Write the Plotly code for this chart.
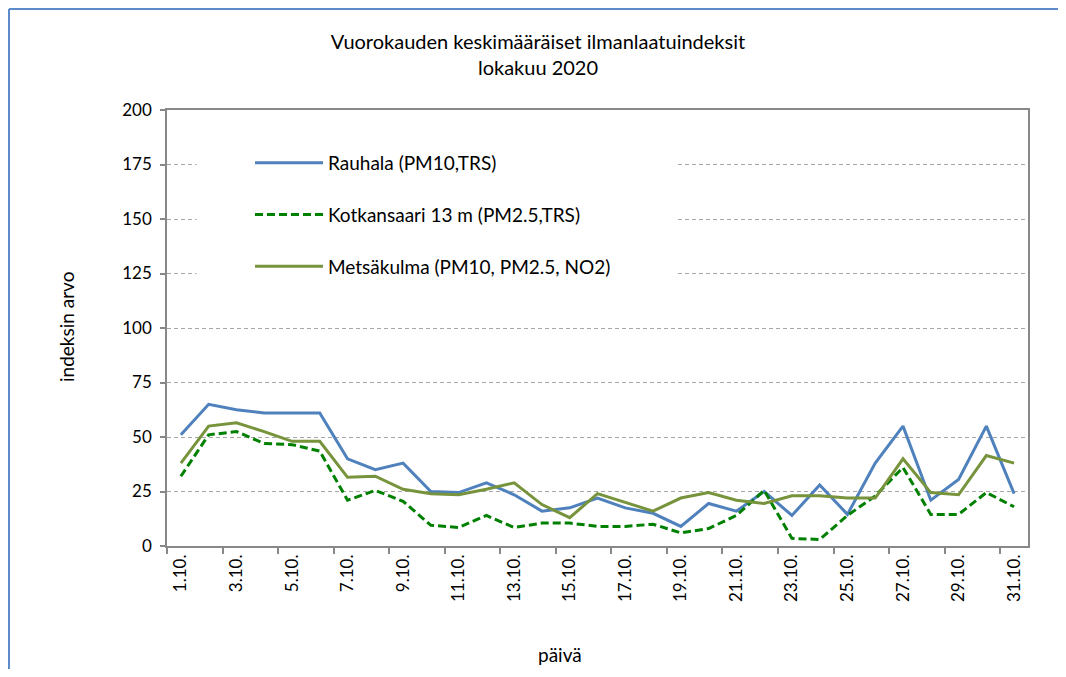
import plotly.graph_objects as go

days = ["1.10.", "2.10.", "3.10.", "4.10.", "5.10.", "6.10.", "7.10.", "8.10.", "9.10.", "10.10.",
        "11.10.", "12.10.", "13.10.", "14.10.", "15.10.", "16.10.", "17.10.", "18.10.", "19.10.", "20.10.",
        "21.10.", "22.10.", "23.10.", "24.10.", "25.10.", "26.10.", "27.10.", "28.10.", "29.10.", "30.10.",
        "31.10."]

rauhala = [51, 65, 62.5, 61, 61, 61, 40, 35, 38, 25, 24.5, 29, 23.5, 16, 17.5, 22, 17.5, 15, 9, 19.5,
           16, 25, 14, 28, 14.5, 38, 55, 21, 30.5, 55, 24]
kotkansaari = [32, 51, 52.5, 47, 46.5, 43.5, 21, 25.5, 20.5, 9.5, 8.5, 14, 8.5, 10.5, 10.5, 9, 9, 10, 6, 8,
               14, 25.5, 3.5, 3, 14, 23, 36, 14.5, 14.5, 24.5, 18]
metsakulma = [38, 55, 56.5, 52.5, 48, 48, 31.5, 32, 26, 24, 23.5, 26, 29, 19, 13, 24, 20, 16, 22, 24.5,
              21, 19.5, 23, 23, 22, 22, 40, 24.5, 23.5, 41.5, 38]

series_names = ["Rauhala (PM10,TRS)", "Kotkansaari 13 m (PM2.5,TRS)", "Metsäkulma (PM10, PM2.5, NO2)"]
y_ticks = [0, 25, 50, 75, 100, 125, 150, 175, 200]

x_pos = list(range(1, len(days) + 1))
label_pos = x_pos[::2]
label_text = days[::2]

FONT = "Lato"
OFF = 8  # page body margin

fig = go.Figure()
fig.add_trace(go.Scatter(x=x_pos, y=rauhala, mode="lines", name=series_names[0], legendgroup="a",
                         line=dict(color="#4F81BD", width=3)))
fig.add_trace(go.Scatter(x=x_pos, y=kotkansaari, mode="lines", name=series_names[1], legendgroup="b",
                         line=dict(color="#008000", width=3, dash="8px,4px")))
fig.add_trace(go.Scatter(x=x_pos, y=metsakulma, mode="lines", name=series_names[2], legendgroup="c",
                         line=dict(color="#77933C", width=3)))

W, H = 1050, 661
L, T = 159, 102
R, B = W - 1020, H - 538
pw, ph = W - L - R, H - T - B

def sx(px):
    return (px - OFF - L) / pw

def sy(py):
    return (H - B - (py - OFF)) / ph

fig.update_layout(
    width=W, height=H,
    margin=dict(l=L, r=R, t=T, b=B, autoexpand=False),
    paper_bgcolor="white", plot_bgcolor="white",
    font=dict(family=FONT, size=16, color="black"),
    title=dict(text="Vuorokauden keskimääräiset ilmanlaatuindeksit<br>lokakuu 2020",
               x=(538 - OFF) / W, xref="container", xanchor="center",
               y=1 - 41 / H, yref="container", yanchor="top",
               font=dict(family=FONT, size=20, color="black")),
    showlegend=True,
    legend=dict(x=sx(250), y=sy(144), xanchor="left", yanchor="top",
                bgcolor="rgba(0,0,0,0)", borderwidth=0, itemwidth=68, tracegroupgap=24,
                traceorder="grouped", font=dict(family=FONT, size=19, color="black")),
    xaxis=dict(range=[0.5, len(days) + 0.5], tickmode="array", tickvals=label_pos, ticktext=label_text,
               tickangle=-90, ticks="", showgrid=False, zeroline=False,
               showline=True, linecolor="#888888", linewidth=1.5, mirror=True,
               tickfont=dict(family=FONT, size=17),
               minor=dict(tick0=0.5, dtick=2, ticks="outside", ticklen=6, tickcolor="#888888",
                          tickwidth=1.5, showgrid=False)),
    yaxis=dict(range=[0, 200], tickmode="array", tickvals=y_ticks, ticks="outside", ticklen=5,
               tickcolor="#888888", tickwidth=1.5, ticklabelstandoff=5,
               showgrid=True, gridcolor="#A6A6A6", griddash="4px,3px", gridwidth=1,
               zeroline=False, showline=True, linecolor="#888888", linewidth=1.5, mirror=True,
               tickfont=dict(family=FONT, size=17)),
    annotations=[
        dict(text="indeksin arvo", x=sx(66), y=sy(327), xref="paper", yref="paper",
             xanchor="center", yanchor="middle",
             textangle=-90, showarrow=False, font=dict(family=FONT, size=19, color="black")),
        dict(text="päivä", x=sx(560), y=sy(654), xref="paper", yref="paper",
             xanchor="center", yanchor="middle",
             showarrow=False, font=dict(family=FONT, size=19, color="black")),
    ],
)

# white legend box covering the gridlines behind the legend
fig.add_shape(type="rect", xref="paper", yref="paper", x0=sx(197), x1=sx(675), y0=sy(300), y1=sy(140),
              line=dict(color="rgb(255,255,255)", width=1), fillcolor="rgb(255,255,255)",
              opacity=1, layer="above")
fig.add_shape(type="line", xref="paper", yref="paper", x0=sx(OFF + 1), x1=sx(OFF + W), y0=sy(OFF + 1),
              y1=sy(OFF + 1), line=dict(color="#5B8BC9", width=2))
fig.add_shape(type="line", xref="paper", yref="paper", x0=sx(OFF + 1), x1=sx(OFF + 1), y0=sy(OFF + 1),
              y1=sy(OFF + H), line=dict(color="#5B8BC9", width=2))

fig.write_html("out.html")
